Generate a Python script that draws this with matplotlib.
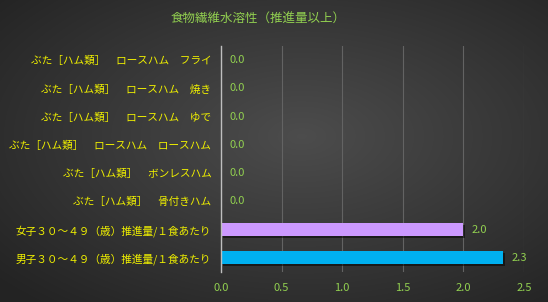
import matplotlib
matplotlib.use("Agg")
import matplotlib.pyplot as plt
import numpy as np
from matplotlib import patheffects as pe

plt.rcParams['font.family'] = ['Noto Sans CJK JP', 'DejaVu Sans']

categories = [
    "ぶた［ハム類］　ロースハム　フライ",
    "ぶた［ハム類］　ロースハム　焼き",
    "ぶた［ハム類］　ロースハム　ゆで",
    "ぶた［ハム類］　ロースハム　ロースハム",
    "ぶた［ハム類］　ボンレスハム",
    "ぶた［ハム類］　骨付きハム",
    "女子３０～４９（歳）推進量/１食あたり",
    "男子３０～４９（歳）推進量/１食あたり",
]
values = [0.0, 0.0, 0.0, 0.0, 0.0, 0.0, 2.0, 2.33]
bar_colors = ["#00b0f0"] * 6 + ["#cc99ff", "#00b0f0"]
title = "食物繊維水溶性（推進量以上）"
xticks = [0.0, 0.5, 1.0, 1.5, 2.0, 2.5]

W, H = 548, 302
fig = plt.figure(figsize=(W / 100, H / 100), dpi=100)

# background gradient
bg = fig.add_axes([0, 0, 1, 1], zorder=-10)
yy, xx = np.mgrid[0:H, 0:W]
cx, cy = W * 0.55, H * 0.45
r = np.sqrt(((xx - cx) / W) ** 2 + ((yy - cy) / H) ** 2)
shade = 0.30 - 0.22 * r
shade = np.clip(shade, 0.14, 0.32)
img = np.dstack([shade, shade, shade])
bg.imshow(img, aspect='auto', extent=[0, 1, 0, 1])
bg.axis('off')

ax = fig.add_axes([221 / W, 1 - 272 / H, (524 - 221) / W, (272 - 46) / H])
ax.set_facecolor('none')
y = np.arange(len(categories))
bars = ax.barh(y, values, height=0.46, color=bar_colors, zorder=3)
for b in bars:
    b.set_path_effects([pe.SimplePatchShadow(offset=(1.5, -1.5), shadow_rgbFace='black', alpha=0.5), pe.Normal()])
ax.set_ylim(len(categories) - 0.5, -0.5)
ax.set_xlim(0, 2.5)
ax.set_xticks(xticks)
ax.set_xticklabels([f"{t:.1f}" for t in xticks], color="#92d050", fontsize=8)
ax.set_yticks(y)
ax.set_yticklabels(categories, color="#f0f000", fontsize=7.7)
ax.tick_params(axis='y', length=0, pad=7)
ax.tick_params(axis='x', length=0, pad=8)
ax.grid(axis='x', color='#636363', linewidth=0.8, zorder=0)
ax.set_axisbelow(True)
for s in ['top', 'right', 'bottom']:
    ax.spines[s].set_visible(False)
ax.spines['left'].set_color('#bfbfbf')
ax.spines['left'].set_linewidth(1.0)
ax.spines['left'].set_zorder(4)

for yi, v in zip(y, values):
    ax.text(v + 0.07, yi, f"{v:.1f}", va='center', ha='left', color="#92d050", fontsize=8)

fig.text(258 / W, 1 - 19 / H, title, ha='center', va='center', color="#92d050", fontsize=9)

fig.savefig("out.png", dpi=100)
